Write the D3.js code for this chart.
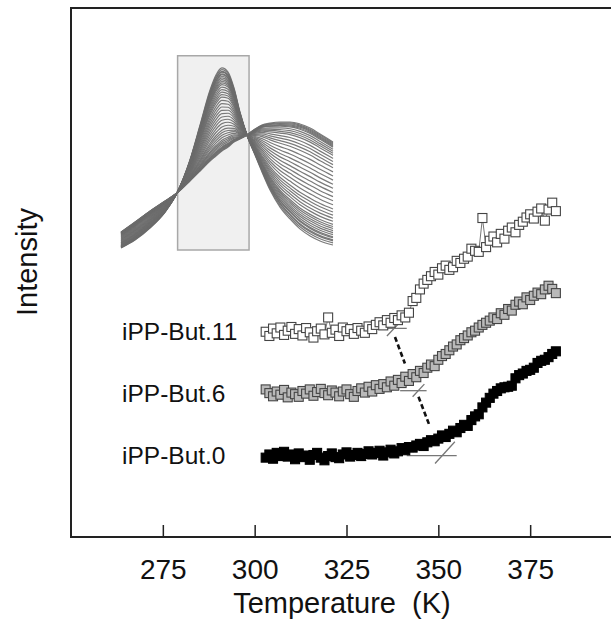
<!DOCTYPE html>
<html>
<head>
<meta charset="utf-8">
<script src="https://cdn.jsdelivr.net/npm/d3@7/dist/d3.min.js"></script>
<style>
    body { margin: 0; background: #fff; }
    text { font-family: "Liberation Sans", Arial, sans-serif; fill: #111; }
</style>
</head>
<body>
<svg id="chart" width="611" height="629"></svg>
<script>
// temperature of each reading (K)
const tempK = [
    303, 304, 305, 306, 307, 308, 309, 310, 311, 312,
    313, 314, 315, 316, 317, 318, 319, 320, 321, 322,
    323, 324, 325, 326, 327, 328, 329, 330, 331, 332,
    333, 334, 335, 336, 337, 338, 339, 340, 341, 342,
    343, 344, 345, 346, 347, 348, 349, 350, 351, 352,
    353, 354, 355, 356, 357, 358, 359, 360, 361, 362,
    363, 364, 365, 366, 367, 368, 369, 370, 371, 372,
    373, 374, 375, 376, 377, 378, 379, 380, 381, 382
];

// intensity (arb. units), one value per temperature
const but11 = [
    38.8, 38.0, 39.4, 38.5, 39.6, 38.2, 39.0, 39.7, 38.4, 39.3,
    38.1, 39.5, 38.7, 37.7, 38.9, 39.4, 38.3, 41.5, 38.6, 39.2,
    38.0, 39.6, 38.9, 39.3, 38.4, 39.5, 39.0, 38.6, 39.8, 39.3,
    40.1, 40.6, 40.0, 41.0, 40.5, 41.4, 41.0, 41.9, 41.5, 42.4,
    44.6, 45.2, 46.8, 47.9, 48.6, 49.3, 50.1, 49.6, 50.8, 51.3,
    50.5, 51.0, 52.2, 51.8, 52.6, 53.0, 54.5, 54.1, 53.9, 60.3,
    54.8, 56.0, 56.8, 55.7, 57.3, 56.4, 57.9, 58.5, 57.6, 59.0,
    59.6, 60.4, 61.0, 60.2, 61.5, 62.1, 59.8, 61.9, 63.2, 61.6
];
const but6 = [
    27.9, 27.2, 26.6, 27.5, 26.9, 27.8, 26.4, 27.3, 27.0, 26.5,
    27.6, 27.1, 27.9, 26.7, 27.4, 28.0, 27.2, 26.8, 27.7, 27.3,
    26.6, 27.5, 27.9, 27.0, 26.5, 27.6, 28.1, 27.3, 28.4, 27.5,
    28.7, 28.0, 28.9, 28.3, 29.4, 28.6, 29.7, 29.1, 30.3, 29.5,
    30.8, 30.2, 31.4, 31.0, 32.0, 32.6, 32.3, 33.5, 34.2, 34.6,
    35.3, 36.0, 36.4, 37.2, 37.6, 38.1, 38.7, 39.0, 39.6, 40.1,
    40.5, 40.9, 41.5, 41.2, 42.3, 42.0, 43.1, 42.8, 43.9, 44.5,
    44.0, 45.3, 44.8, 45.6, 46.2, 45.9, 46.8, 47.5, 46.9, 46.1
];
const but0 = [
    15.0, 15.6, 14.8, 15.9, 15.3, 16.1, 15.2, 15.6, 14.7, 15.8,
    15.1, 15.4, 14.6, 15.5, 15.9, 15.0, 14.5, 15.3, 15.8, 15.1,
    14.9, 15.6, 16.0, 15.2, 15.5, 15.9, 15.3, 15.7, 16.2, 15.6,
    15.9, 16.3, 15.4, 16.0, 16.5, 15.8, 16.2, 16.8, 16.4, 17.0,
    16.9, 17.3, 17.6, 17.2, 17.9, 18.3, 18.1, 18.6, 19.2, 18.9,
    19.5, 20.1, 19.8, 20.6, 21.2, 21.0, 22.1, 22.8, 23.2, 24.5,
    25.4, 26.3, 27.1, 27.6, 28.1, 28.3, 28.4, 28.6, 30.0, 30.6,
    30.9, 31.4, 31.6, 32.0, 32.9, 33.3, 33.5, 34.0, 34.6, 35.1
];
const seriesNames = ["iPP-But.11", "iPP-But.6", "iPP-But.0"];
const seriesFill = ["#ffffff", "#b9b9b9", "#000000"];

// onset construction: baseline [T from, T to, level], tangent [[T, I], [T, I]]
const baseLines = [[332.0, 341.4, 39.45], [339.6, 346.8, 27.66], [341.4, 355.0, 15.37]];
const tangents = [
    [[336.0, 38.0], [340.1, 41.0]],
    [[343.0, 26.5], [346.2, 28.9]],
    [[349.1, 13.9], [354.5, 18.0]]
];
const onsetLinks = [
    [[338.2, 37.8], [340.9, 32.8]],
    [[344.6, 26.5], [347.7, 20.9]]
];

const xTicks = [275, 300, 325, 350, 375];

// inset spectra: band position (arb.), two limiting profiles, mixing fraction of each trace
const insetPos = [0, 6.6, 13.7, 20.8, 26.4, 32.5, 37.3, 42.0, 44.8, 47.6, 50.5, 53.3,
    56.1, 59.4, 63.2, 66.5, 70.3, 75.0, 79.7, 84.4, 89.2, 93.9, 100];
const crystBand = [0.011, 0.054, 0.119, 0.205, 0.308, 0.486, 0.676, 0.865, 0.946, 0.984, 0.962, 0.876,
    0.746, 0.622, 0.514, 0.422, 0.324, 0.232, 0.168, 0.114, 0.076, 0.049, 0.027];
const amorphBand = [0.097, 0.151, 0.211, 0.265, 0.308, 0.373, 0.427, 0.481, 0.508, 0.535, 0.557, 0.584,
    0.600, 0.622, 0.654, 0.676, 0.686, 0.692, 0.692, 0.681, 0.659, 0.627, 0.584];
const traceFrac = [1, 0.98, 0.96, 0.95, 0.93, 0.92, 0.9, 0.88, 0.86, 0.84, 0.82, 0.8, 0.77, 0.74,
    0.71, 0.68, 0.65, 0.61, 0.57, 0.53, 0.49, 0.45, 0.41, 0.37, 0.33, 0.29, 0.25, 0.22, 0.19,
    0.16, 0.13, 0.11, 0.09, 0.07, 0.05, 0.04, 0.03, 0.02, 0.01, 0];
const insetBox = [26.7, 60.4, 1.05];

const svg = d3.select("#chart");
const x = d3.scaleLinear().domain([250, 400]).range([71, 622]);
const y = d3.scaleLinear().domain([0, 100]).range([537, 8]);

drawInset();
drawFrame();
drawOnsets();
drawSeries();

/**
 * Frame, inward ticks and axis titles
 */
function drawFrame() {
    svg.append("rect")
        .attr("x", x(250)).attr("y", y(100))
        .attr("width", x(400) - x(250)).attr("height", y(0) - y(100))
        .attr("fill", "none").attr("stroke", "#222").attr("stroke-width", 2);

    let axis = svg.append("g")
        .attr("transform", "translate(0," + y(0) + ")")
        .call(d3.axisBottom(x).tickValues(xTicks).tickSizeInner(-12).tickSizeOuter(0).tickPadding(22));
    axis.select(".domain").remove();
    axis.selectAll(".tick line").attr("stroke", "#222").attr("stroke-width", 1.5);
    axis.selectAll(".tick text")
        .attr("font-size", 28).attr("font-family", "Liberation Sans, Arial, sans-serif").attr("fill", "#111");

    svg.append("text")
        .attr("x", 342).attr("y", 613)
        .attr("text-anchor", "middle").attr("font-size", 29)
        .style("white-space", "pre")
        .text("Temperature  (K)");

    svg.append("text")
        .attr("transform", "translate(37,262) rotate(-90)")
        .attr("text-anchor", "middle").attr("font-size", 29)
        .text("Intensity");
}

/**
 * Baselines, tangents and the dashed line joining the onsets
 */
function drawOnsets() {
    let g = svg.append("g");
    baseLines.forEach(function (b) {
        g.append("line")
            .attr("x1", x(b[0])).attr("x2", x(b[1]))
            .attr("y1", y(b[2])).attr("y2", y(b[2]))
            .attr("stroke", "#777").attr("stroke-width", 1.3);
    });
    tangents.forEach(function (t) {
        g.append("line")
            .attr("x1", x(t[0][0])).attr("y1", y(t[0][1]))
            .attr("x2", x(t[1][0])).attr("y2", y(t[1][1]))
            .attr("stroke", "#777").attr("stroke-width", 1.3);
    });
    onsetLinks.forEach(function (l) {
        g.append("line")
            .attr("x1", x(l[0][0])).attr("y1", y(l[0][1]))
            .attr("x2", x(l[1][0])).attr("y2", y(l[1][1]))
            .attr("stroke", "#111").attr("stroke-width", 2.6)
            .attr("stroke-dasharray", "5,3");
    });
}

/**
 * Three square-marker series with labels
 */
function drawSeries() {
    let all = [but11, but6, but0];
    let line = d3.line().x(d => x(d[0])).y(d => y(d[1]));
    let size = 9;

    all.forEach(function (vals, i) {
        let pts = tempK.map((t, j) => [t, vals[j]]);
        let g = svg.append("g").attr("class", "series" + i);
        g.append("path")
            .datum(pts)
            .attr("d", line)
            .attr("fill", "none").attr("stroke", "#777").attr("stroke-width", 1);
        g.selectAll("rect")
            .data(pts)
            .enter().append("rect")
            .attr("x", d => x(d[0]) - size / 2)
            .attr("y", d => y(d[1]) - size / 2)
            .attr("width", size).attr("height", size)
            .attr("fill", seriesFill[i])
            .attr("stroke", i === 2 ? "#000" : "#444").attr("stroke-width", 1.1);

        let level = d3.mean(vals.slice(0, 10));
        svg.append("text")
            .attr("x", 122).attr("y", y(level))
            .attr("dy", "0.35em").attr("font-size", 24.5)
            .text(seriesNames[i]);
    });
}

/**
 * Inset with the band-shape traces and the highlighted window
 */
function drawInset() {
    let ix = d3.scaleLinear().domain([0, 100]).range([121, 333]);
    let iy = d3.scaleLinear().domain([0, 1]).range([250, 65]);

    svg.append("rect")
        .attr("x", ix(insetBox[0])).attr("y", iy(insetBox[2]))
        .attr("width", ix(insetBox[1]) - ix(insetBox[0]))
        .attr("height", iy(0) - iy(insetBox[2]))
        .attr("fill", "#f0f0f0").attr("stroke", "#a8a8a8").attr("stroke-width", 1.5);

    let line = d3.line().x(d => ix(d[0])).y(d => iy(d[1])).curve(d3.curveMonotoneX);
    let traces = traceFrac.map(function (f) {
        return insetPos.map((p, k) => [p, f * crystBand[k] + (1 - f) * amorphBand[k]]);
    });
    svg.append("g")
        .selectAll("path")
        .data(traces)
        .enter().append("path")
        .attr("d", line)
        .attr("fill", "none")
        .attr("stroke", "#6b6b6b").attr("stroke-width", 1.2).attr("stroke-opacity", 0.9);
}
</script>
</body>
</html>
